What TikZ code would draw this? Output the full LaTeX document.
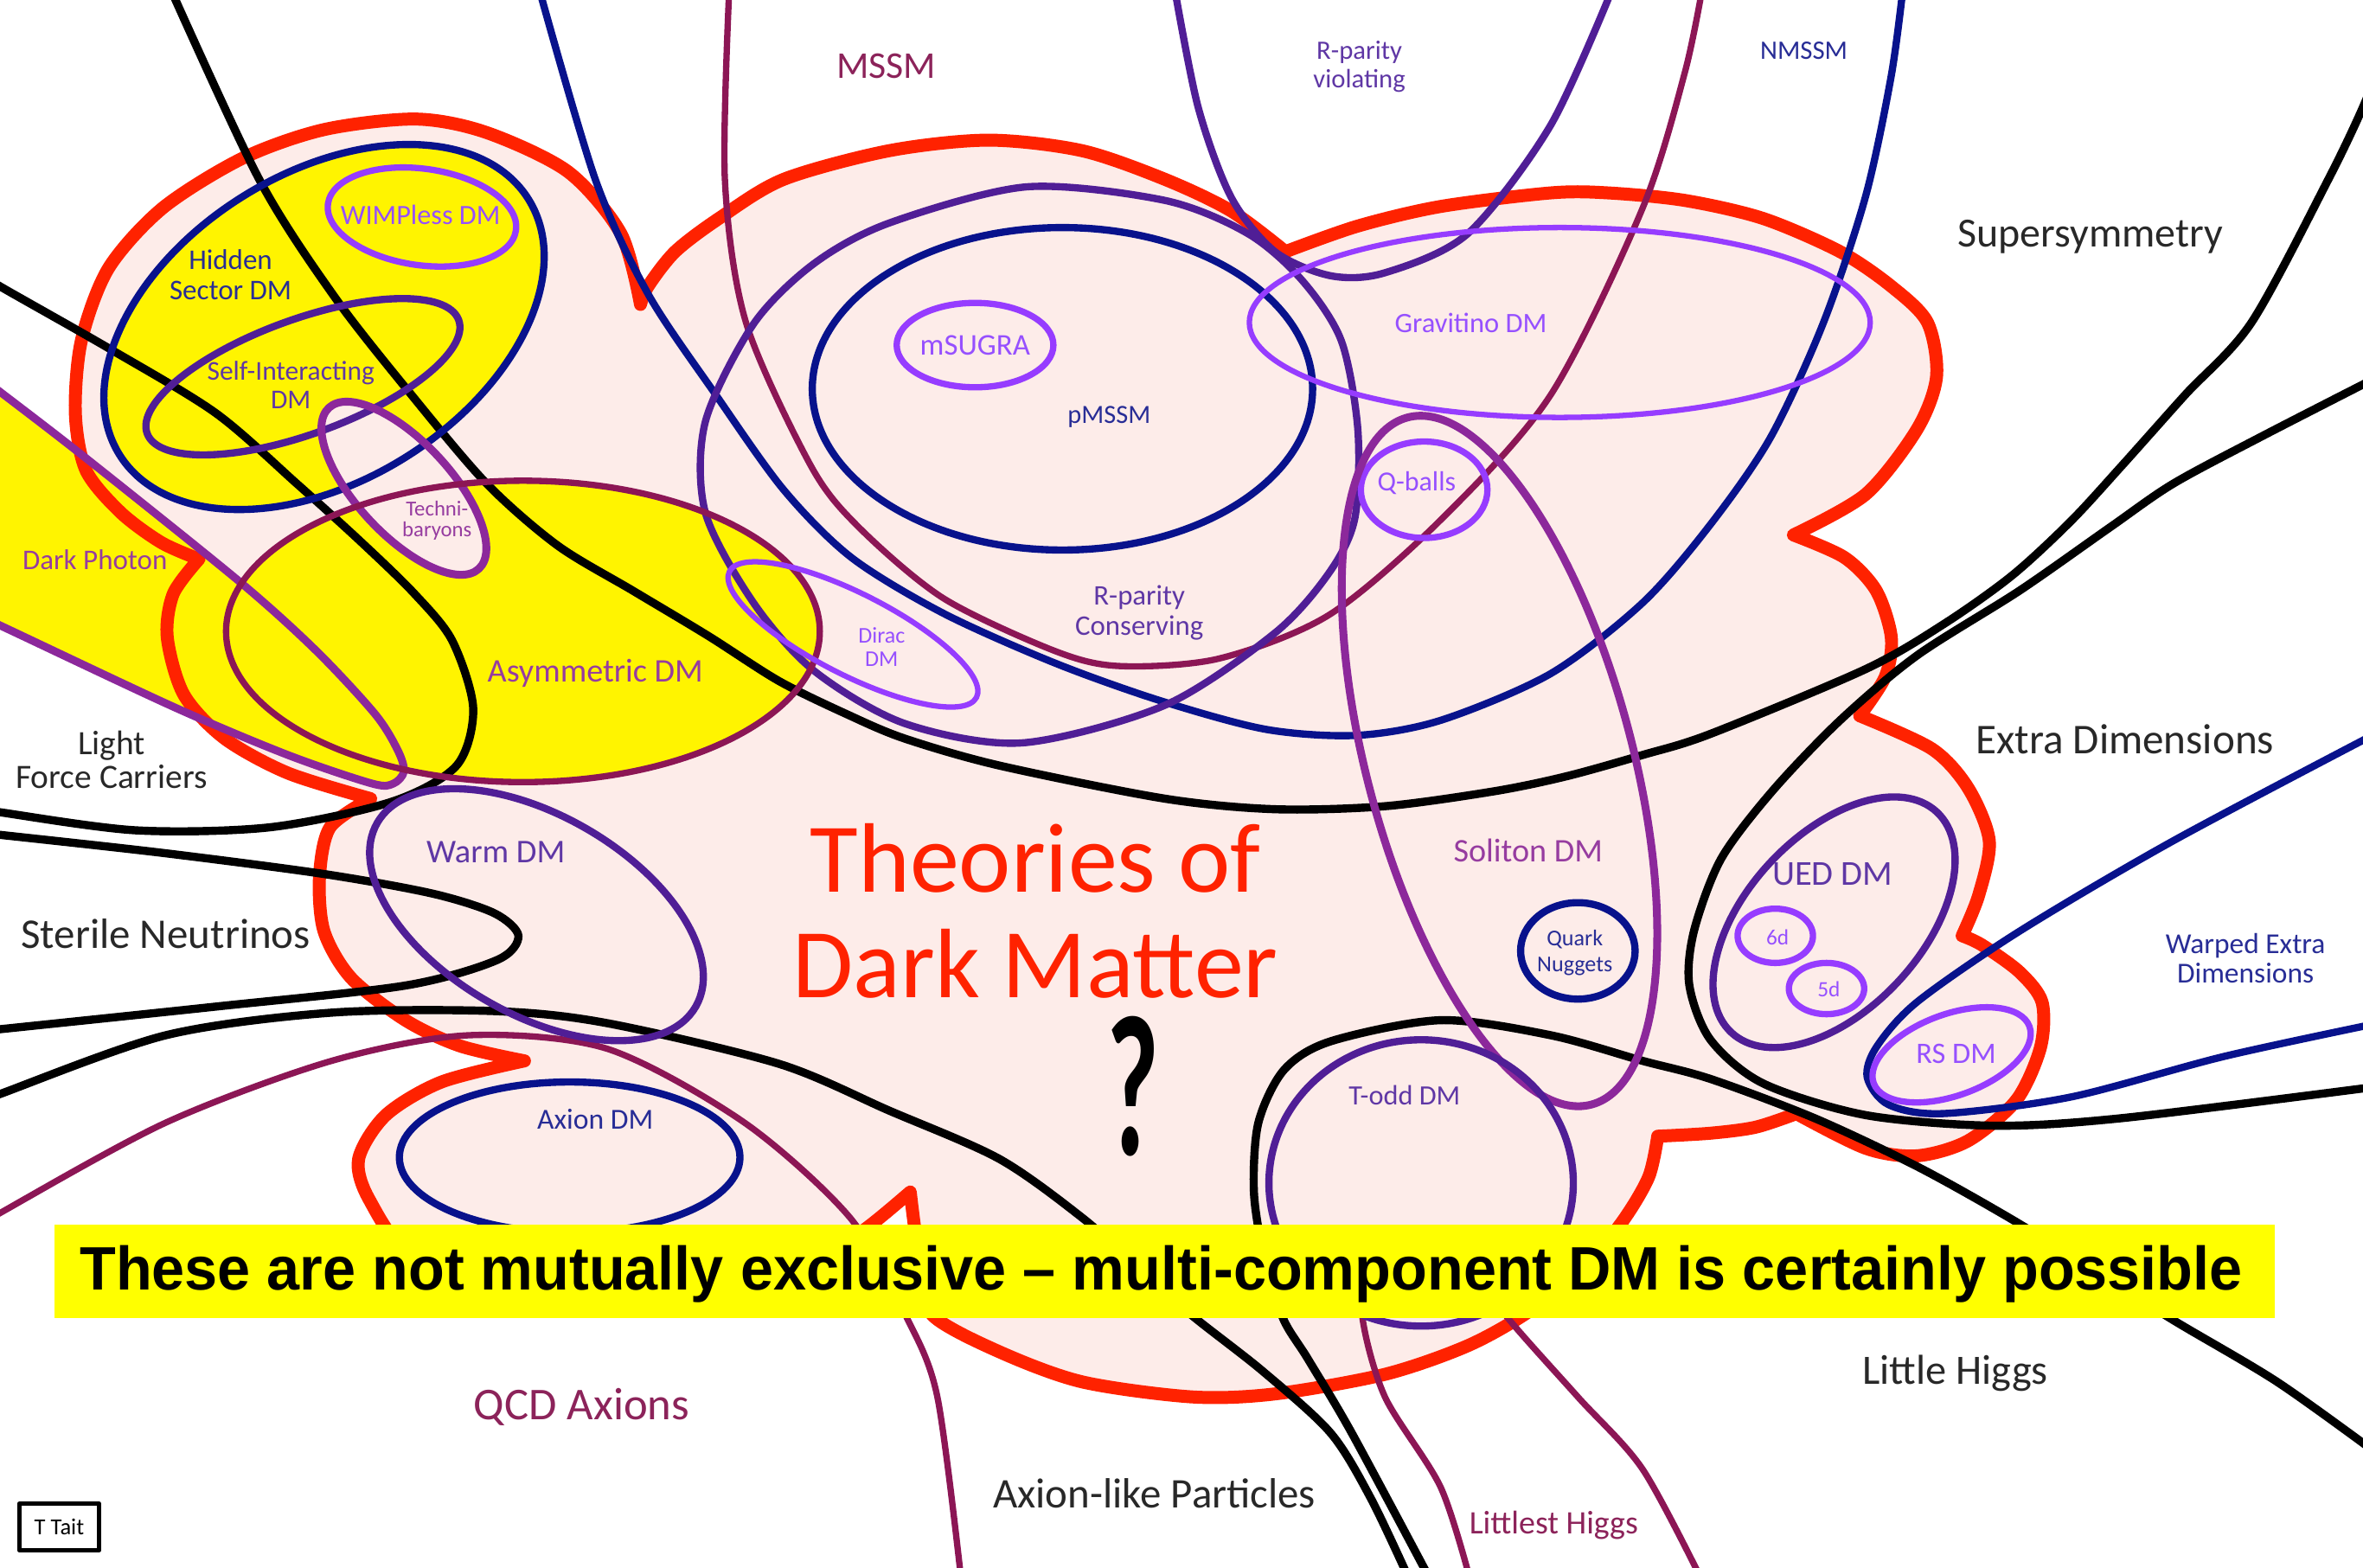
\documentclass[tikz,border=0pt]{standalone}
\usepackage{fontspec}
\setmainfont{Carlito}
\newfontfamily\bannerfont{Liberation Sans}
\usepackage{graphicx}

% one drawing unit = 0.5pt
\newlength\du
\setlength\du{0.5pt}
\newcommand{\fitw}[2]{\resizebox{#1\du}{!}{#2}}
\newcommand{\twol}[3][0.9]{{\renewcommand{\arraystretch}{#1}\begin{tabular}[b]{@{}c@{}}#2\\#3\end{tabular}}}
% ellipse: style, cx, cy, rx, ry, angle
\newcommand{\elli}[6]{\path[#1, rotate around={#6:(#2,#3)}] (#2,#3) ellipse [x radius=#4, y radius=#5];}

\definecolor{cred}{RGB}{255,34,0}
\definecolor{cpink}{RGB}{253,236,233}
\definecolor{cyel}{RGB}{255,244,0}
\definecolor{cban}{RGB}{255,255,0}
\definecolor{cnavy}{RGB}{8,18,140}
\definecolor{cind}{RGB}{80,30,150}
\definecolor{cmar}{RGB}{140,22,85}
\definecolor{cmpu}{RGB}{140,40,155}
\definecolor{cvio}{RGB}{150,60,255}
\definecolor{tgrey}{RGB}{40,40,40}
\definecolor{tnavy}{RGB}{40,45,150}
\definecolor{tind}{RGB}{95,55,165}
\definecolor{tmar}{RGB}{140,35,90}
\definecolor{tmpu}{RGB}{150,60,160}
\definecolor{tvio}{RGB}{150,80,255}

\tikzset{
  redline/.style={draw=cred, line width=4.3pt},
  navyline/.style={draw=cnavy, line width=2.4pt},
  indline/.style={draw=cind, line width=2.4pt},
  marline/.style={draw=cmar, line width=2.1pt},
  mpuline/.style={draw=cmpu, line width=2.6pt},
  violine/.style={draw=cvio, line width=2.1pt},
  thinvio/.style={draw=cvio, line width=1.8pt},
  blkline/.style={draw=black, line width=2.7pt},
  lbl/.style={inner sep=0pt, anchor=base},
}

% outline of the dark matter cloud, lobe by lobe
\newcommand{\cloudshape}{
  plot[smooth] coordinates {(425,202) (412,155) (377,114) (323,88) (276,79) (215,86) (161,105) (108,138) (72,178) (54,226) (50,274) (57,312) (80,340) (107,360) (132,371)}
  -- plot[smooth] coordinates {(132,371) (115,394) (111,423) (122,461) (149,490) (191,513) (246,530)}
  -- plot[smooth] coordinates {(246,530) (219,549) (212,582) (215,618) (233,649) (269,677) (305,694) (348,704)}
  -- plot[smooth] coordinates {(348,704) (293,718) (256,740) (238,769) (245,796) (275,835) (350,860) (450,862) (535,842) (575,815) (604,791)}
  -- plot[smooth] coordinates {(604,791) (607,815) (612,845) (619,873) (663,897) (718,917) (791,927) (846,925) (919,912) (974,893) (1015,870) (1052,840) (1077,810) (1094,781) (1100,754)}
  -- plot[smooth] coordinates {(1100,754) (1135,752) (1165,748) (1192,739)}
  -- plot[smooth] coordinates {(1192,739) (1238,762) (1272,767) (1306,757) (1338,730) (1354,695) (1355,665) (1340,645) (1315,627) (1302,621)}
  -- plot[smooth] coordinates {(1302,621) (1313,594) (1320,558) (1306,523) (1282,497) (1234,475)}
  -- plot[smooth] coordinates {(1234,475) (1251,449) (1255,423) (1245,392) (1224,370) (1190,355)}
  -- plot[smooth] coordinates {(1190,355) (1238,328) (1272,285) (1285,250) (1279,214) (1255,190) (1221,167) (1170,145) (1118,133) (1067,128) (1029,128) (956,137) (901,150) (853,167)}
  -- plot[smooth] coordinates {(853,167) (817,140) (773,119) (718,100) (656,93) (590,100) (520,119) (477,145) (448,167) (430,190) (425,202)}
  -- cycle}

% the dark photon wedge
\newcommand{\bandline}{
  plot[smooth] coordinates {(-20,245) (0,260) (57,304) (159,386) (210,432) (249,474) (264,498) (268,512) (261,520) (247,520) (191,501) (115,469) (0,415) (-20,406)}}

\begin{document}
\begin{tikzpicture}[x=0.5pt, y=-0.5pt, line cap=round, line join=round]
\useasboundingbox (0,0) rectangle (1568,1040);
\clip (0,0) rectangle (1568,1040);
\fill[white] (0,0) rectangle (1568,1040);

% cloud body
\fill[cpink] \cloudshape;

% yellow regions
\elli{fill=cyel}{215}{217}{160}{102}{32}
\elli{fill=cyel}{347}{419}{197}{100}{0}
\fill[cyel] \bandline -- cycle;
\elli{fill=cpink}{268}{324}{73}{31}{-47}

% cloud outline
\draw[redline] \cloudshape;

% large open families
\draw[blkline] plot[smooth] coordinates {(112,-10) (172,119) (222,197) (273,262) (323,321) (370,362) (420,392) (470,422) (517,452) (562,474) (600,490) (663,508) (773,530) (846,537) (919,535) (992,525) (1040,515) (1090,501) (1135,487) (1238,444) (1290,414) (1335,382) (1374,346) (1408,309) (1450,262) (1494,214) (1545,119) (1568,71) (1580,40)};
\draw[blkline] plot[smooth] coordinates {(-10,183) (0,190) (72,231) (143,274) (197,321) (240,360) (275,394) (300,425) (314,470) (303,508) (260,532) (179,549) (90,551) (0,539) (-10,537)};
\draw[blkline] plot[smooth] coordinates {(-10,553) (0,554) (108,566) (215,580) (287,593) (328,606) (344,621) (330,637) (269,654) (143,668) (0,683) (-10,684)};
\draw[blkline] plot[smooth] coordinates {(-10,730) (0,726) (110,687) (220,672) (329,671) (403,679) (517,706) (590,737) (663,769) (718,808) (760,845) (791,873) (838,910) (883,951) (910,995) (936,1050)};
\draw[blkline] plot[smooth] coordinates {(950,1050) (897,951) (868,902) (851,874) (838,830) (832,790) (835,745) (852,710) (883,691) (956,677) (1029,687) (1090,704) (1135,716) (1204,742) (1272,774) (1333,808) (1390,843) (1442,876) (1511,917) (1578,965)};
\draw[blkline] plot[smooth] coordinates {(1578,250) (1500,290) (1442,321) (1400,350) (1340,392) (1272,435) (1221,478) (1176,525) (1142,570) (1124,618) (1121,654) (1135,690) (1170,719) (1238,740) (1323,747) (1408,742) (1578,721)};

\draw[navyline] plot[smooth] coordinates {(357,-10) (395,119) (430,195) (475,262) (520,325) (565,370) (626,407) (700,440) (770,465) (840,484) (900,488) (956,478) (1029,447) (1090,400) (1135,348) (1175,290) (1210,214) (1238,130) (1255,50) (1263,-10)};
\draw[navyline] plot[smooth] coordinates {(1578,486) (1442,558) (1340,618) (1272,665) (1245,695) (1239,715) (1253,733) (1289,739) (1374,728) (1476,701) (1578,679)};

\draw[marline] plot[smooth] coordinates {(484,-10) (481,119) (495,214) (538,309) (570,350) (626,397) (700,432) (743,442) (809,437) (882,408) (956,345) (1029,262) (1090,138) (1118,48) (1130,-10)};
\draw[marline] plot[smooth] coordinates {(-10,812) (0,805) (110,745) (220,704) (311,687) (403,696) (494,745) (564,808) (601,873) (622,927) (638,1050)};
\draw[marline] plot[smooth] coordinates {(976,1050) (956,987) (919,927) (904,874) (908,840) (935,822) (968,830) (1000,874) (1047,927) (1090,975) (1130,1050)};

\draw[indline] plot[smooth] coordinates {(779,-10) (795,71) (817,131) (846,167) (883,183) (919,181) (974,155) (1029,83) (1071,-10)};
\draw[indline] plot[smooth cycle] coordinates {(681,124) (773,133) (828,155) (864,186) (890,226) (901,285) (899,344) (882,380) (846,420) (773,468) (678,493) (600,480) (540,445) (500,400) (468,340) (468,280) (500,215) (540,175) (590,148)};

\draw[mpuline] \bandline;

% individual candidates
\elli{navyline}{215}{217}{160}{102}{32}
\elli{violine}{280}{144}{63}{32}{-8}
\elli{indline}{201}{250}{110}{38}{20}
\elli{mpuline}{268}{324}{73}{31}{-47}
\elli{marline}{347}{419}{197}{100}{0}
\elli{indline}{356}{607}{122}{66}{-30}
\elli{navyline}{378}{768}{113}{50}{0}
\elli{violine}{647}{229}{52}{28}{0}
\elli{navyline}{705}{258}{166}{107}{0}
\elli{thinvio}{566}{421}{92}{27}{-27}
\elli{thinvio}{1035}{214}{206}{63}{0}
\elli{violine}{945}{325}{42}{32}{0}
\elli{mpuline}{995}{505}{236}{88}{-75}
\elli{navyline}{1047}{631}{38}{32}{0}
\elli{indline}{943}{785}{101}{95}{0}
\elli{indline}{1217}{612}{100}{58}{47}
\elli{violine}{1178}{621}{25}{18}{0}
\elli{violine}{1212}{656}{25}{17}{0}
\elli{violine}{1295}{700}{55}{27}{20}

% labels
\node[lbl, text=tmar] (mssm) at (588,52) {\fitw{66}{MSSM}};
\node[lbl, text=tind] (rpv) at (902,58.3) {\fitw{61}{\twol[0.9]{R-parity}{violating}}};
\node[lbl, text=tnavy] (nmssm) at (1197,39.5) {\fitw{58}{NMSSM}};
\node[lbl, text=tgrey] (susy) at (1387,164) {\fitw{176}{Supersymmetry}};
\node[lbl, text=tnavy] (hidden) at (153,199) {\fitw{81}{\twol[0.9]{Hidden}{Sector DM}}};
\node[lbl, text=tvio] (wimpless) at (279,149) {\fitw{106}{WIMPless DM}};
\node[lbl, text=tind] (selfint) at (193,271) {\fitw{111}{\twol[0.87]{Self-Interacting}{DM}}};
\node[lbl, text=tmpu] (techni) at (290,356) {\fitw{46}{\twol[0.78]{Techni-}{baryons}}};
\node[lbl, text=tmpu] (darkphoton) at (63,378) {\fitw{96}{Dark Photon}};
\node[lbl, text=tmpu] (asym) at (395,452.6) {\fitw{143}{Asymmetric DM}};
\node[lbl, text=tgrey] (light) at (74,523) {\fitw{127}{\twol[0.8]{Light}{Force Carriers}}};
\node[lbl, text=tgrey] (sterile) at (110,629.4) {\fitw{192}{Sterile Neutrinos}};
\node[lbl, text=tind] (warm) at (329,572.3) {\fitw{92}{Warm DM}};
\node[lbl, text=tnavy] (axiondm) at (395,749) {\fitw{77}{Axion DM}};
\node[lbl, text=tmar] (qcd) at (386,942.3) {\fitw{143}{QCD Axions}};
\node[lbl, text=tvio] (dirac) at (585,442) {\fitw{31}{\twol[0.86]{Dirac}{DM}}};
\node[lbl, text=tvio] (msugra) at (647,235.5) {\fitw{73}{mSUGRA}};
\node[lbl, text=tnavy] (pmssm) at (736,280.7) {\fitw{55}{pMSSM}};
\node[lbl, text=tind] (rpc) at (756,421.7) {\fitw{85}{\twol[0.89]{R-parity}{Conserving}}};
\node[lbl, text=tvio] (gravitino) at (976,220.8) {\fitw{101}{Gravitino DM}};
\node[lbl, text=tvio] (qballs) at (940,325.5) {\fitw{52}{Q-balls}};
\node[lbl, text=tmpu] (soliton) at (1014,572) {\fitw{99}{Soliton DM}};
\node[lbl, text=tnavy] (nuggets) at (1045,644.6) {\fitw{50}{\twol[0.95]{Quark}{Nuggets}}};
\node[lbl, text=cred] (title) at (687,662) {\fitw{322}{\twol[0.89]{Theories of}{Dark Matter}}};
\node[lbl] (qmark) at (752,766.6) {\resizebox{35\du}{92\du}{\bfseries ?}};
\node[lbl, text=tind] (todd) at (932,733.2) {\fitw{74}{T-odd DM}};
\node[lbl, text=tind] (ued) at (1216,587.5) {\fitw{80}{UED DM}};
\node[lbl, text=tvio] (sixd) at (1179.5,627) {\fitw{15}{6d}};
\node[lbl, text=tvio] (fived) at (1213.5,661.5) {\fitw{15}{5d}};
\node[lbl, text=tvio] (rsdm) at (1298,705.6) {\fitw{53}{RS DM}};
\node[lbl, text=tgrey] (extradim) at (1410,500.2) {\fitw{198}{Extra Dimensions}};
\node[lbl, text=tnavy] (warped) at (1490,652.5) {\fitw{106}{\twol[0.86]{Warped Extra}{Dimensions}}};
\node[lbl, text=tgrey] (littlehiggs) at (1297.5,918.8) {\fitw{123}{Little Higgs}};
\node[lbl, text=tgrey] (alp) at (766,1000.4) {\fitw{214}{Axion-like Particles}};
\node[lbl, text=tmar] (littlest) at (1031,1018) {\fitw{112}{Littlest Higgs}};

% banner
\node[fill=cban, inner sep=0pt, minimum width=736.5pt, minimum height=31pt, anchor=north west] (banner) at (36,812) {};
\node[lbl] (bannertext) at (770.5,855.8) {\resizebox{1435\du}{29.5\du}{\bannerfont\bfseries These are not mutually exclusive – multi-component DM is certainly possible}};

% credit
\node[draw=black, line width=1.4pt, minimum width=26.5pt, minimum height=15.5pt, inner sep=0pt] (ttait) at (39.3,1013.3) {\fitw{33}{T Tait}};
\end{tikzpicture}
\end{document}
